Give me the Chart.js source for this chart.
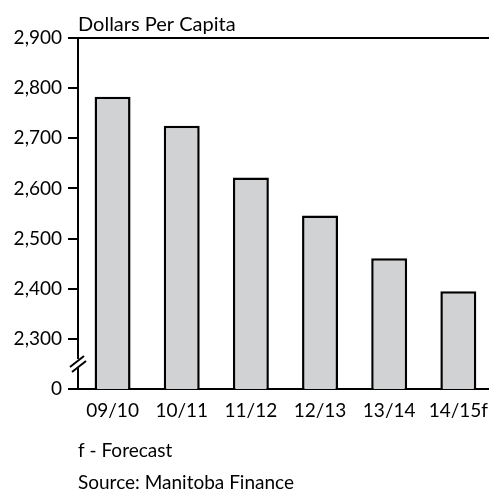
<!DOCTYPE html>
<html>
<head>
<meta charset="utf-8">
<script src="https://cdn.jsdelivr.net/npm/chart.js@4"></script>
<style>
  html, body { margin: 0; padding: 0; background: #fff; overflow: hidden; }
  #wrap { position: relative; width: 498px; height: 491px; }
</style>
</head>
<body>
<div id="wrap"><canvas id="perCapita"></canvas></div>
<script>
// fiscal years and dollars per capita
const years = ['09/10', '10/11', '11/12', '12/13', '13/14', '14/15f'];
const perCapita = [2783, 2725, 2622, 2546, 2461, 2395];
// axis is broken: the bottom tick stands in for zero
const axisFloor = 2200;
const axisTop = 2900;
const footnotes = ['f - Forecast', 'Source: Manitoba Finance'];
const unitLabel = 'Dollars Per Capita';

const FONT = 'Lato, "Open Sans", sans-serif';

// titles, footnotes and the axis-break slashes
const extras = {
    id: 'extras',
    afterDraw(chart) {
        const ctx = chart.ctx;
        const area = chart.chartArea;
        const y = chart.scales.y;
        ctx.save();
        ctx.fillStyle = '#000';
        ctx.textBaseline = 'alphabetic';
        ctx.textAlign = 'left';
        ctx.font = '20px ' + FONT;
        ctx.fillText(unitLabel, area.left, 31);
        ctx.font = '19px ' + FONT;
        ctx.fillText(footnotes[0], area.left, 457);
        ctx.fillText(footnotes[1], area.left, 489);

        // break marks half way between 0 and 2,300
        const by = y.getPixelForValue(axisFloor + 50);
        ctx.fillStyle = '#fff';
        ctx.fillRect(area.left - 2, by - 5, 4, 9);
        ctx.strokeStyle = '#000';
        ctx.lineWidth = 2;
        ctx.beginPath();
        ctx.moveTo(area.left - 8, by + 3);
        ctx.lineTo(area.left + 6, by - 8);
        ctx.moveTo(area.left - 6, by + 8);
        ctx.lineTo(area.left + 8, by - 3);
        ctx.stroke();
        ctx.restore();
    }
};

new Chart('perCapita', {
    type: 'bar',
    data: {
        labels: years,
        datasets: [{
            data: perCapita,
            backgroundColor: '#d1d2d4',
            borderColor: '#000',
            borderWidth: 2.5,
            borderSkipped: 'bottom',
            categoryPercentage: 1,
            barPercentage: 0.52
        }]
    },
    options: {
        responsive: true,
        maintainAspectRatio: false,
        animation: false,
        layout: { padding: { top: 38, bottom: 62, left: 0, right: 0 } },
        plugins: {
            legend: { display: false },
            tooltip: { enabled: false }
        },
        scales: {
            x: {
                grid: { display: false, drawTicks: false },
                border: { display: true, color: '#000', width: 2 },
                ticks: {
                    color: '#000',
                    font: { family: FONT, size: 19 },
                    padding: 10,
                    maxRotation: 0
                },
                afterFit(scale) { scale.height = 40; }
            },
            y: {
                min: axisFloor,
                max: axisTop,
                border: { display: true, color: '#000', width: 2 },
                grid: {
                    color: (c) => (c.tick && (c.tick.value === axisTop || c.tick.value === axisFloor)) ? '#000' : 'rgba(0,0,0,0)',
                    lineWidth: 2,
                    drawTicks: true,
                    tickColor: '#000',
                    tickLength: 10,
                    tickWidth: 2
                },
                ticks: {
                    stepSize: 100,
                    color: '#000',
                    padding: 6,
                    font: { family: FONT, size: 19 },
                    callback: (v) => v === axisFloor ? '0' : v.toLocaleString('en-US')
                },
                afterFit(scale) { scale.width = 78; }
            }
        }
    },
    plugins: [extras]
});
</script>
</body>
</html>
